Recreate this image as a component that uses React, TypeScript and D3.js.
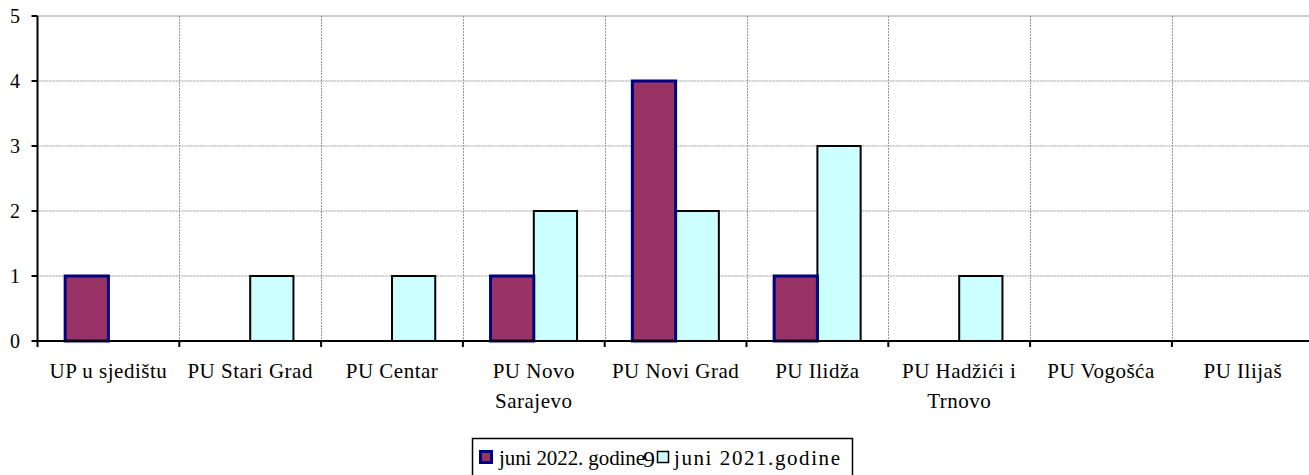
import React, { useRef, useEffect } from "react";
import * as d3 from "d3";

const categories = [
  ["UP u sjedištu"],
  ["PU Stari Grad"],
  ["PU Centar"],
  ["PU Novo", "Sarajevo"],
  ["PU Novi Grad"],
  ["PU Ilidža"],
  ["PU Hadžići i", "Trnovo"],
  ["PU Vogošća"],
  ["PU Ilijaš"],
];
const series2022 = [1, 0, 0, 1, 4, 1, 0, 0, 0];
const series2021 = [0, 1, 1, 2, 2, 3, 1, 0, 0];
const yTicks = [0, 1, 2, 3, 4, 5];
const legendLabels = ["juni 2022. godine", "juni 2021.godine"];

const W = 1309;
const H = 475;

const App = () => {
  const ref = useRef(null);

  useEffect(() => {
    const svg = d3.select(ref.current);
    svg.selectAll("*").remove();
    const font = "'Liberation Serif', 'Times New Roman', serif";

    const left = 37.5;
    const catW = 141.8;
    const x = d3
      .scaleBand()
      .domain(categories.map((_, i) => String(i)))
      .range([left, left + catW * categories.length]);
    const y = d3.scaleLinear().domain([0, 5]).range([341, 16]);

    const g = svg.append("g");

    // horizontal grid
    g.selectAll(".hgrid")
      .data(yTicks.filter((t) => t > 0))
      .enter()
      .append("line")
      .attr("x1", left)
      .attr("x2", W)
      .attr("y1", (d) => y(d))
      .attr("y2", (d) => y(d))
      .attr("stroke", "#999")
      .attr("stroke-width", 1)
      .attr("stroke-dasharray", (d) => (d === 5 ? null : "2,1"));

    // vertical grid
    g.selectAll(".vgrid")
      .data(categories.slice(1).map((_, i) => String(i + 1)))
      .enter()
      .append("line")
      .attr("x1", (d) => Math.round(x(d)!) + 0.5)
      .attr("x2", (d) => Math.round(x(d)!) + 0.5)
      .attr("y1", y(5))
      .attr("y2", y(0))
      .attr("stroke", "#999")
      .attr("stroke-width", 1)
      .attr("stroke-dasharray", "2,1");

    const barW = catW * 0.305;
    const off = (catW - 2 * barW) / 2;

    // 2021 bars
    g.selectAll(".b21")
      .data(series2021.map((v, i) => ({ v, i })).filter((d) => d.v > 0))
      .enter()
      .append("rect")
      .attr("x", (d) => x(String(d.i))! + off + barW)
      .attr("y", (d) => y(d.v))
      .attr("width", barW)
      .attr("height", (d) => y(0) - y(d.v))
      .attr("fill", "#CCFFFF")
      .attr("stroke", "#000")
      .attr("stroke-width", 2);

    // 2022 bars
    g.selectAll(".b22")
      .data(series2022.map((v, i) => ({ v, i })).filter((d) => d.v > 0))
      .enter()
      .append("rect")
      .attr("x", (d) => x(String(d.i))! + off)
      .attr("y", (d) => y(d.v))
      .attr("width", barW)
      .attr("height", (d) => y(0) - y(d.v))
      .attr("fill", "#993366")
      .attr("stroke", "#000080")
      .attr("stroke-width", 3);

    // axes
    g.append("line")
      .attr("x1", left)
      .attr("x2", left)
      .attr("y1", y(5))
      .attr("y2", y(0) + 1)
      .attr("stroke", "#000")
      .attr("stroke-width", 2);
    g.append("line")
      .attr("x1", left - 5)
      .attr("x2", W)
      .attr("y1", y(0))
      .attr("y2", y(0))
      .attr("stroke", "#000")
      .attr("stroke-width", 2);

    g.selectAll(".ytick")
      .data(yTicks)
      .enter()
      .append("line")
      .attr("x1", left - 6)
      .attr("x2", left)
      .attr("y1", (d) => y(d))
      .attr("y2", (d) => y(d))
      .attr("stroke", "#000")
      .attr("stroke-width", 2);
    g.selectAll(".ylab")
      .data(yTicks)
      .enter()
      .append("text")
      .attr("x", 20)
      .attr("y", (d) => y(d) + 7)
      .attr("text-anchor", "end")
      .attr("font-family", font)
      .attr("font-size", 20)
      .text((d) => d);

    g.selectAll(".xtick")
      .data(categories.map((_, i) => String(i)))
      .enter()
      .append("line")
      .attr("x1", (d) => x(d)!)
      .attr("x2", (d) => x(d)!)
      .attr("y1", y(0))
      .attr("y2", y(0) + 6)
      .attr("stroke", "#000")
      .attr("stroke-width", 2);

    categories.forEach((lines, i) => {
      const t = g
        .append("text")
        .attr("text-anchor", "middle")
        .attr("font-family", font)
        .attr("font-size", 21)
        .attr("letter-spacing", 0.5);
      lines.forEach((ln, j) => {
        t.append("tspan")
          .attr("x", x(String(i))! + catW / 2)
          .attr("y", 378 + j * 30)
          .text(ln);
      });
    });

    // legend (box runs past the bottom edge)
    const lg = svg.append("g");
    lg.append("rect")
      .attr("x", 472.5)
      .attr("y", 438.5)
      .attr("width", 380)
      .attr("height", 60)
      .attr("fill", "#fff")
      .attr("stroke", "#000")
      .attr("stroke-width", 1.5);
    lg.append("rect")
      .attr("x", 480.5)
      .attr("y", 451.5)
      .attr("width", 11)
      .attr("height", 11)
      .attr("fill", "#993366")
      .attr("stroke", "#000080")
      .attr("stroke-width", 3);
    lg.append("text")
      .attr("x", 499)
      .attr("y", 465)
      .attr("font-family", font)
      .attr("font-size", 21)
      .attr("textLength", 146)
      .attr("lengthAdjust", "spacing")
      .text(legendLabels[0]);
    lg.append("text")
      .attr("x", 643)
      .attr("y", 467)
      .attr("font-family", font)
      .attr("font-size", 24)
      .text("9");
    lg.append("rect")
      .attr("x", 657.5)
      .attr("y", 451.5)
      .attr("width", 11)
      .attr("height", 11)
      .attr("fill", "#CCFFFF")
      .attr("stroke", "#000")
      .attr("stroke-width", 1.5);
    lg.append("text")
      .attr("x", 674)
      .attr("y", 465)
      .attr("font-family", font)
      .attr("font-size", 21)
      .attr("textLength", 166)
      .attr("lengthAdjust", "spacing")
      .text(legendLabels[1]);
  }, []);

  return (
    <svg
      ref={ref}
      width={W}
      height={H}
      style={{ position: "absolute", left: 0, top: 0, background: "#fff" }}
    />
  );
};

export default App;
